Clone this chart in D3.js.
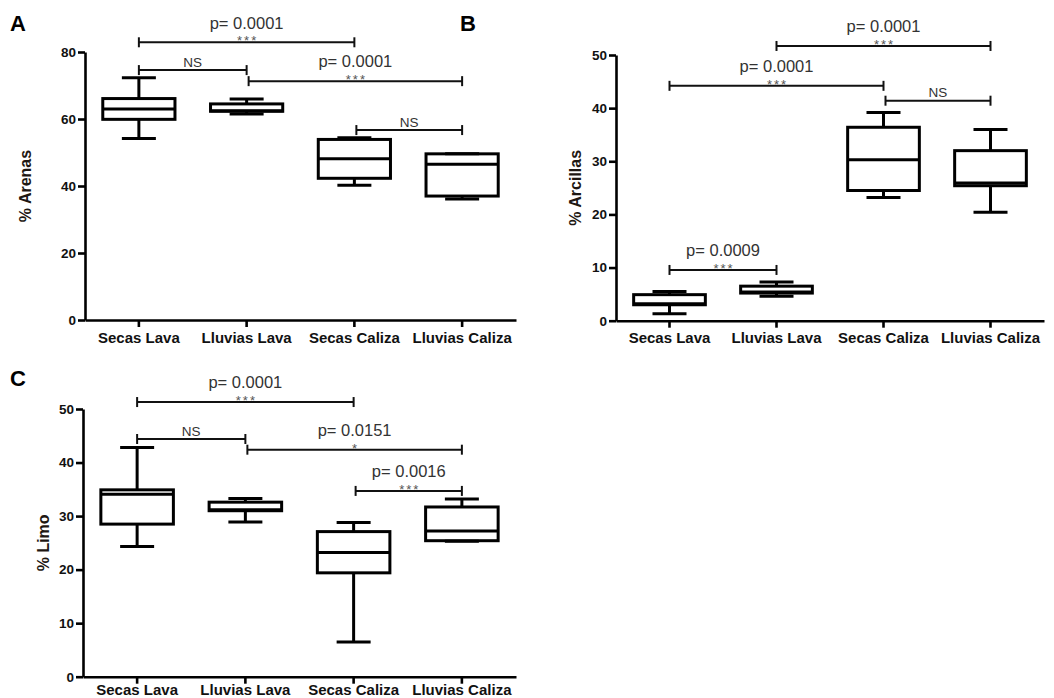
<!DOCTYPE html>
<html>
<head>
<meta charset="utf-8">
<script src="https://cdn.jsdelivr.net/npm/d3@7"></script>
<style>
  body { margin: 0; background: #fff; }
  svg { font-family: "Liberation Sans", Arial, sans-serif; }
</style>
</head>
<body>
<div id="root"></div>
<script>
// categories shared by all three panels
var categories = ["Secas Lava", "Lluvias Lava", "Secas Caliza", "Lluvias Caliza"];

// box stats per category: [min, q1, median, q3, max]
var arenasStats = [
  [54.2, 59.9, 63.0, 66.1, 72.3],
  [61.5, 62.3, 62.5, 64.5, 66.0],
  [40.2, 42.3, 48.1, 53.9, 54.4],
  [36.1, 37.0, 46.5, 49.6, 49.6]
];
var arcillasStats = [
  [1.3, 3.0, 3.2, 4.9, 5.5],
  [4.6, 5.2, 5.4, 6.5, 7.3],
  [23.2, 24.5, 30.3, 36.4, 39.2],
  [20.4, 25.4, 25.9, 32.0, 36.0]
];
var limoStats = [
  [24.3, 28.5, 34.1, 34.9, 42.8],
  [28.9, 31.0, 31.2, 32.6, 33.3],
  [6.5, 19.4, 23.2, 27.1, 28.8],
  [25.3, 25.4, 27.2, 31.7, 33.2]
];

// comparisons: [from, to, bracket value, p label, stars]
var arenasTests = [
  [0, 2, 82.9, "p= 0.0001", "***"],
  [0, 1, 74.6, "", "NS"],
  [1, 3, 71.3, "p= 0.0001", "***"],
  [2, 3, 56.7, "", "NS"]
];
var arcillasTests = [
  [1, 3, 51.7, "p= 0.0001", "***"],
  [0, 2, 44.2, "p= 0.0001", "***"],
  [2, 3, 41.4, "", "NS"],
  [0, 1, 9.55, "p= 0.0009", "***"]
];
var limoTests = [
  [0, 2, 51.3, "p= 0.0001", "***"],
  [0, 1, 44.4, "", "NS"],
  [1, 3, 42.4, "p= 0.0151", "*"],
  [2, 3, 34.7, "p= 0.0016", "***"]
];

var arenasTicks = [0, 20, 40, 60, 80];
var limoTicks = [0, 10, 20, 30, 40, 50];
var arcillasTicks = [0, 10, 20, 30, 40, 50];

var svg = d3.select("#root").append("svg")
    .attr("width", 1054)
    .attr("height", 698);

function drawPanel(p)
{
  var g = svg.append("g");

  var x = d3.scaleBand()
      .domain(categories)
      .range([p.x0, p.x1])
      .paddingInner(0.33)
      .paddingOuter(0.165);

  var y = d3.scaleLinear()
      .domain([0, p.max])
      .range([p.y0, p.y1]);

  // y axis
  var yAxis = g.append("g")
      .attr("transform", "translate(" + p.x0 + ",0)")
      .call(d3.axisLeft(y).tickValues(p.ticks).tickSize(7).tickSizeOuter(0).tickPadding(2));
  yAxis.selectAll("text")
      .style("font-size", "13.5px")
      .style("font-weight", "bold")
      .attr("fill", "#111");

  // x axis
  var xAxis = g.append("g")
      .attr("transform", "translate(0," + p.y0 + ")")
      .call(d3.axisBottom(x).tickSize(7).tickSizeOuter(0).tickPadding(p.labelPad));
  xAxis.selectAll("text")
      .style("font-size", "15px")
      .style("font-weight", "bold")
      .attr("fill", "#111");

  g.selectAll(".domain, .tick line")
      .attr("stroke", "#000")
      .attr("stroke-width", 2.6);

  // y title
  g.append("text")
      .attr("transform", "translate(" + (p.x0 - p.titleOff) + "," + ((p.y0 + p.y1) / 2) + ") rotate(-90)")
      .attr("text-anchor", "middle")
      .attr("dy", "0.35em")
      .style("font-size", "16px")
      .style("font-weight", "bold")
      .attr("fill", "#1e1712")
      .text(p.title);

  // panel letter
  g.append("text")
      .attr("x", p.letterX)
      .attr("y", p.letterY)
      .attr("text-anchor", "middle")
      .attr("dy", "0.35em")
      .style("font-size", "22px")
      .style("font-weight", "bold")
      .attr("fill", "#000")
      .text(p.letter);

  // boxes
  var bw = x.bandwidth();
  var capW = 34;
  var box = g.append("g").selectAll(".box")
      .data(p.stats)
    .enter().append("g")
      .attr("class", "box")
      .attr("transform", function(d, i) { return "translate(" + (x(categories[i]) + bw / 2) + ",0)"; });

  box.append("line")
      .attr("x1", 0).attr("x2", 0)
      .attr("y1", function(d) { return y(d[0]); })
      .attr("y2", function(d) { return y(d[4]); })
      .attr("stroke", "#000").attr("stroke-width", 3);

  box.append("rect")
      .attr("x", -bw / 2)
      .attr("width", bw)
      .attr("y", function(d) { return y(d[3]); })
      .attr("height", function(d) { return y(d[1]) - y(d[3]); })
      .attr("fill", "#fff")
      .attr("stroke", "#000").attr("stroke-width", 3);

  box.append("line")
      .attr("x1", -bw / 2).attr("x2", bw / 2)
      .attr("y1", function(d) { return y(d[2]); })
      .attr("y2", function(d) { return y(d[2]); })
      .attr("stroke", "#000").attr("stroke-width", 3);

  [0, 4].forEach(function(k) {
    box.append("line")
        .attr("x1", -capW / 2).attr("x2", capW / 2)
        .attr("y1", function(d) { return y(d[k]); })
        .attr("y2", function(d) { return y(d[k]); })
        .attr("stroke", "#000").attr("stroke-width", 3);
  });

  // significance brackets
  var ends = [];
  p.tests.forEach(function(t) {
    var xa = x(categories[t[0]]) + bw / 2;
    var xb = x(categories[t[1]]) + bw / 2;
    if (ends.indexOf(t[0]) >= 0) xa += 2; // don't sit on the previous bracket's end
    ends.push(t[1]);
    var yy = y(t[2]);
    var b = g.append("g");
    b.append("line")
        .attr("x1", xa).attr("x2", xb).attr("y1", yy).attr("y2", yy)
        .attr("stroke", "#111").attr("stroke-width", 2);
    [xa, xb].forEach(function(xe) {
      b.append("line")
          .attr("x1", xe).attr("x2", xe).attr("y1", yy - 5).attr("y2", yy + 5)
          .attr("stroke", "#111").attr("stroke-width", 2);
    });
    var cx = (xa + xb) / 2;
    if (t[3] !== "")
    {
      b.append("text")
          .attr("x", cx).attr("y", yy - 19.5)
          .attr("dy", "0.35em")
          .attr("text-anchor", "middle")
          .style("font-size", "16.5px")
          .attr("fill", "#333")
          .text(t[3]);
      b.append("text")
          .attr("x", cx + 1).attr("y", yy + 3)
          .attr("text-anchor", "middle")
          .style("font-size", "13px")
          .style("letter-spacing", "2px")
          .attr("fill", "#555")
          .text(t[4]);
    }
    else
    {
      b.append("text")
          .attr("x", cx).attr("y", yy - 8)
          .attr("dy", "0.35em")
          .attr("text-anchor", "middle")
          .style("font-size", "13.5px")
          .attr("fill", "#333")
          .text(t[4]);
    }
  });
}

drawPanel({ stats: arenasStats, tests: arenasTests, ticks: arenasTicks, max: 80,
  x0: 85, x1: 516, y0: 320, y1: 52, title: "% Arenas", titleOff: 60, labelPad: 5,
  letter: "A", letterX: 18, letterY: 23 });

drawPanel({ stats: arcillasStats, tests: arcillasTests, ticks: arcillasTicks, max: 50,
  x0: 616, x1: 1044, y0: 320.7, y1: 55, title: "% Arcillas", titleOff: 41, labelPad: 5,
  letter: "B", letterX: 468, letterY: 23 });

drawPanel({ stats: limoStats, tests: limoTests, ticks: limoTicks, max: 50,
  x0: 83, x1: 516, y0: 676.7, y1: 409, title: "% Limo", titleOff: 40, labelPad: 1,
  letter: "C", letterX: 18, letterY: 378 });
</script>
</body>
</html>
